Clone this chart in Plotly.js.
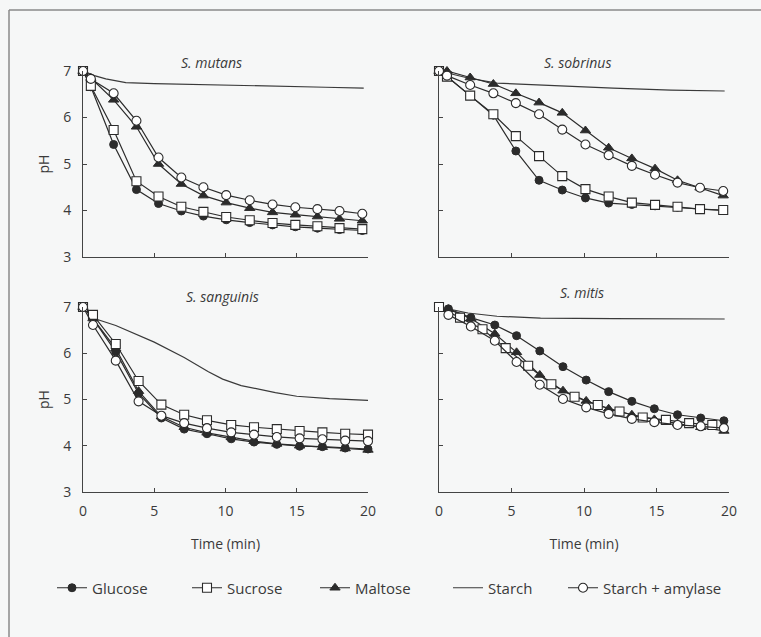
<!DOCTYPE html>
<html>
<head>
<meta charset="utf-8">
<script src="https://cdn.plot.ly/plotly-3.0.1.min.js"></script>
<style>html,body{margin:0;padding:0;background:#f6f7f7;}#chart{width:761px;height:637px;}</style>
</head>
<body>
<div id="chart"></div>
<script>
// ---------- DATA ----------
const seriesNames = ["Glucose", "Sucrose", "Maltose", "Starch", "Starch + amylase"];
const panelTitles = ["S. mutans", "S. sobrinus", "S. sanguinis", "S. mitis"];
const xTickVals = [0, 5, 10, 15, 20];
const yTickVals = [3, 4, 5, 6, 7];

// S. mutans
const timeMutans = [0, 0.55, 2.15, 3.75, 5.3, 6.9, 8.45, 10.05, 11.7, 13.3, 14.9, 16.45, 18.0, 19.6];
const mutansGlucose = [7.0, 6.66, 5.42, 4.45, 4.15, 3.99, 3.88, 3.8, 3.74, 3.69, 3.65, 3.62, 3.59, 3.57];
const mutansSucrose = [7.0, 6.68, 5.73, 4.63, 4.3, 4.08, 3.97, 3.86, 3.79, 3.73, 3.69, 3.66, 3.62, 3.6];
const mutansMaltose = [7.0, 6.85, 6.38, 5.8, 5.0, 4.57, 4.32, 4.17, 4.05, 3.96, 3.91, 3.87, 3.82, 3.78];
const mutansStarchAmylase = [7.0, 6.83, 6.52, 5.93, 5.14, 4.71, 4.5, 4.33, 4.22, 4.13, 4.07, 4.03, 3.99, 3.93];
const mutansStarchTime = [0, 0.8, 1.6, 2.2, 3.0, 5, 10, 15, 17, 19.7];
const mutansStarch = [7.0, 6.9, 6.83, 6.8, 6.75, 6.73, 6.69, 6.66, 6.65, 6.63];

// S. sobrinus
const timeSobrinus = [0, 0.55, 2.15, 3.75, 5.3, 6.9, 8.5, 10.1, 11.7, 13.3, 14.9, 16.45, 18.0, 19.6];
const sobrinusGlucose = [7.0, 6.88, 6.47, 6.05, 5.28, 4.65, 4.44, 4.27, 4.16, 4.13, 4.1, 4.07, 4.03, 4.0];
const sobrinusSucrose = [7.0, 6.88, 6.47, 6.07, 5.6, 5.17, 4.74, 4.46, 4.3, 4.17, 4.12, 4.08, 4.03, 4.01];
const sobrinusMaltose = [7.0, 7.0, 6.86, 6.72, 6.52, 6.32, 6.1, 5.72, 5.35, 5.12, 4.9, 4.65, 4.49, 4.32];
const sobrinusStarchAmylase = [7.0, 6.9, 6.7, 6.52, 6.31, 6.07, 5.74, 5.42, 5.19, 4.96, 4.77, 4.6, 4.49, 4.42];
const sobrinusStarchTime = [0, 2, 4, 8, 12, 16, 19.7];
const sobrinusStarch = [7.0, 6.85, 6.74, 6.68, 6.63, 6.59, 6.57];

// S. sanguinis
const timeSanguinis = [0, 0.7, 2.3, 3.9, 5.5, 7.1, 8.7, 10.4, 12.0, 13.6, 15.2, 16.8, 18.4, 20.0];
const sanguinisGlucose = [7.0, 6.75, 6.03, 5.13, 4.6, 4.36, 4.26, 4.15, 4.08, 4.03, 3.99, 3.98, 3.95, 3.93];
const sanguinisSucrose = [7.0, 6.83, 6.2, 5.4, 4.89, 4.67, 4.55, 4.45, 4.4, 4.36, 4.32, 4.29, 4.26, 4.24];
const sanguinisMaltose = [7.0, 6.75, 6.1, 5.18, 4.63, 4.4, 4.28, 4.18, 4.1, 4.04, 4.0, 3.97, 3.94, 3.91];
const sanguinisStarchAmylase = [7.0, 6.61, 5.84, 4.96, 4.65, 4.49, 4.38, 4.29, 4.24, 4.19, 4.16, 4.14, 4.11, 4.1];
const sanguinisStarchTime = [0, 0.9, 2.3, 5.0, 7.1, 8.8, 9.8, 11.1, 13.5, 15.0, 17.3, 20];
const sanguinisStarch = [7.0, 6.74, 6.6, 6.24, 5.91, 5.6, 5.44, 5.3, 5.15, 5.07, 5.02, 4.98];

// S. mitis
const timeMitis = [0.65, 2.2, 3.85, 5.35, 6.95, 8.55, 10.15, 11.7, 13.3, 14.85, 16.45, 18.05, 19.65];
const timeMitisSucrose = [0, 1.45, 3.0, 4.6, 6.15, 7.75, 9.35, 10.95, 12.45, 14.05, 15.65, 17.25, 18.85];
const mitisGlucose = [6.96, 6.77, 6.61, 6.38, 6.05, 5.71, 5.42, 5.17, 4.96, 4.8, 4.67, 4.6, 4.54];
const mitisSucrose = [7.0, 6.77, 6.52, 6.11, 5.73, 5.33, 5.06, 4.88, 4.74, 4.61, 4.56, 4.49, 4.45];
const mitisMaltose = [6.95, 6.75, 6.42, 6.02, 5.53, 5.19, 4.97, 4.8, 4.67, 4.57, 4.48, 4.4, 4.32];
const mitisStarchAmylase = [6.83, 6.58, 6.27, 5.81, 5.32, 5.01, 4.83, 4.69, 4.58, 4.51, 4.45, 4.42, 4.38];
const mitisStarchTime = [0, 2, 4, 7, 12, 19.7];
const mitisStarch = [7.0, 6.87, 6.8, 6.76, 6.75, 6.74];

// ---------- BUILD ----------
const ink = "#2b2b2b";
const FONT = "Open Sans, Noto Sans, sans-serif";
const panels = [
  {xa: "x", ya: "y", t: timeMutans, ts: timeMutans, g: mutansGlucose, s: mutansSucrose, m: mutansMaltose, sa: mutansStarchAmylase, st: mutansStarchTime, sv: mutansStarch},
  {xa: "x2", ya: "y2", t: timeSobrinus, ts: timeSobrinus, g: sobrinusGlucose, s: sobrinusSucrose, m: sobrinusMaltose, sa: sobrinusStarchAmylase, st: sobrinusStarchTime, sv: sobrinusStarch},
  {xa: "x3", ya: "y3", t: timeSanguinis, ts: timeSanguinis, g: sanguinisGlucose, s: sanguinisSucrose, m: sanguinisMaltose, sa: sanguinisStarchAmylase, st: sanguinisStarchTime, sv: sanguinisStarch},
  {xa: "x4", ya: "y4", t: timeMitis, ts: timeMitisSucrose, g: mitisGlucose, s: mitisSucrose, m: mitisMaltose, sa: mitisStarchAmylase, st: mitisStarchTime, sv: mitisStarch}
];

const lineStyle = {color: ink, width: 1.2};
const traces = [];
panels.forEach((p, i) => {
  const show = i === 0;
  traces.push({x: p.st, y: p.sv, xaxis: p.xa, yaxis: p.ya, mode: "lines", name: seriesNames[3],
    line: {color: "#3a3a3a", width: 1.2}, showlegend: show, legend: "legend4", cliponaxis: false});
  traces.push({x: p.t, y: p.g, xaxis: p.xa, yaxis: p.ya, mode: "lines+markers", name: seriesNames[0],
    line: lineStyle, marker: {symbol: "circle", size: 8, color: ink, line: {color: ink, width: 1}},
    showlegend: show, legend: "legend", cliponaxis: false});
  traces.push({x: p.t, y: p.m, xaxis: p.xa, yaxis: p.ya, mode: "lines+markers", name: seriesNames[2],
    line: lineStyle, marker: {symbol: "triangle-up", size: 9, color: ink, line: {color: ink, width: 1}},
    showlegend: show, legend: "legend3", cliponaxis: false});
  traces.push({x: p.ts, y: p.s, xaxis: p.xa, yaxis: p.ya, mode: "lines+markers", name: seriesNames[1],
    line: lineStyle, marker: {symbol: "square", size: 9, color: "#ffffff", line: {color: ink, width: 1.1}},
    showlegend: show, legend: "legend2", cliponaxis: false});
  traces.push({x: p.t, y: p.sa, xaxis: p.xa, yaxis: p.ya, mode: "lines+markers", name: seriesNames[4],
    line: lineStyle, marker: {symbol: "circle", size: 9, color: "#ffffff", line: {color: ink, width: 1.1}},
    showlegend: show, legend: "legend5", cliponaxis: false});
});

const W = 761, H = 637;
const px = v => v / W, py = v => (H - v) / H;
const colX = [[px(83), px(368)], [px(439), px(729)]];
const rowY = [[py(257), py(71)], [py(492), py(307)]];

function xaxis(col, row) {
  const bottom = row === 1;
  return {
    domain: colX[col], range: [0, 20], anchor: ["y", "y2", "y3", "y4"][row * 2 + col],
    showline: true, linecolor: "#444", linewidth: 1, mirror: false,
    showgrid: false, zeroline: false,
    ticks: "inside", ticklen: 4, tickwidth: 1, tickcolor: "#444",
    tickvals: xTickVals, showticklabels: bottom, ticklabelstandoff: 6,
    tickfont: {family: FONT, size: 14, color: "#3a3a3a"},
    title: bottom ? {text: "Time (min)", font: {family: FONT, size: 14, color: "#3a3a3a"}, standoff: 20} : {text: ""}
  };
}
function yaxis(col, row) {
  const left = col === 0;
  return {
    domain: rowY[row], range: [3, 7], anchor: ["x", "x2", "x3", "x4"][row * 2 + col],
    showline: true, linecolor: "#444", linewidth: 1, mirror: false,
    showgrid: false, zeroline: false,
    ticks: "inside", ticklen: 4, tickwidth: 1, tickcolor: "#444",
    tickvals: yTickVals, showticklabels: left, ticklabelstandoff: 8,
    tickfont: {family: FONT, size: 14, color: "#3a3a3a"},
    title: left ? {text: "pH", font: {family: FONT, size: 14, color: "#3a3a3a"}, standoff: 10} : {text: ""}
  };
}

const titlePos = [[212, 63], [577, 63], [222, 297], [582, 292]];
const annotations = panelTitles.map((t, i) => ({
  text: "<i>" + t + "</i>", xref: "paper", yref: "paper",
  x: px(titlePos[i][0]), y: py(titlePos[i][1]), xanchor: "center", yanchor: "middle",
  showarrow: false, font: {family: FONT, size: 14, color: "#3a3a3a"}
}));

// legend line-start positions (px)
const legendStarts = [57, 192, 320, 453, 568];
function legendAt(i) {
  return {orientation: "h", x: px(legendStarts[i] - 5), xanchor: "left", y: py(588), yanchor: "middle",
    font: {family: FONT, size: 15, color: "#3a3a3a"}, bgcolor: "rgba(0,0,0,0)", borderwidth: 0};
}

const layout = {
  width: W, height: H,
  margin: {l: 0, r: 0, t: 0, b: 0},
  paper_bgcolor: "#f6f7f7", plot_bgcolor: "rgba(0,0,0,0)",
  showlegend: true,
  legend: legendAt(0), legend2: legendAt(1), legend3: legendAt(2), legend4: legendAt(3), legend5: legendAt(4),
  xaxis: xaxis(0, 0), yaxis: yaxis(0, 0),
  xaxis2: xaxis(1, 0), yaxis2: yaxis(1, 0),
  xaxis3: xaxis(0, 1), yaxis3: yaxis(0, 1),
  xaxis4: xaxis(1, 1), yaxis4: yaxis(1, 1),
  annotations: annotations,
  shapes: [
    {type: "line", xref: "paper", yref: "paper", x0: px(9), x1: 1, y0: py(10), y1: py(10), line: {color: "#8a8a8a", width: 1.5}},
    {type: "line", xref: "paper", yref: "paper", x0: px(9), x1: px(9), y0: py(10), y1: 0, line: {color: "#8a8a8a", width: 1.5}}
  ]
};

Plotly.newPlot("chart", traces, layout, {displayModeBar: false, staticPlot: true});
</script>
</body>
</html>
